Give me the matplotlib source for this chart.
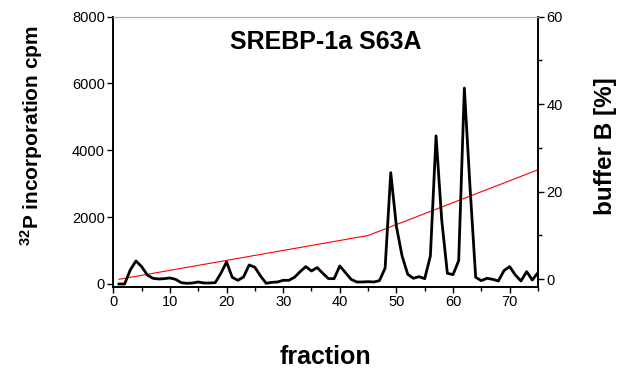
import matplotlib
matplotlib.use("Agg")
import matplotlib.pyplot as plt
from matplotlib.ticker import MultipleLocator

plt.rcParams['font.family'] = ['Liberation Sans', 'DejaVu Sans']
plt.rcParams['mathtext.fontset'] = 'custom'
plt.rcParams['mathtext.bf'] = 'Liberation Sans:bold'
plt.rcParams['mathtext.rm'] = 'Liberation Sans:bold'

# 32P incorporation per fraction
fraction = list(range(1, 76))
cpm = [0, 0, 420, 690, 520, 270, 170, 150, 160, 180,
       140, 40, 20, 30, 60, 30, 30, 40, 320, 660,
       200, 110, 210, 570, 500, 240, 20, 50, 60, 110,
       110, 200, 370, 520, 390, 490, 320, 160, 160, 540,
       340, 140, 60, 60, 70, 60, 100, 470, 3330, 1720,
       840, 290, 170, 220, 160, 840, 4430, 1920, 320, 280,
       700, 5860, 2900, 200, 100, 170, 140, 90, 400, 520,
       270, 90, 370, 120, 340]

# buffer B gradient
grad_x = [1, 45, 75]
grad_b = [0, 10, 25]

fig = plt.figure(figsize=(6.27, 3.71), dpi=100)
ax = fig.add_axes([0.1807, 0.2264, 0.858 - 0.1807, 0.9555 - 0.2264])
ax2 = ax.twinx()

ax.plot(fraction, cpm, color='black', lw=2.0, zorder=3)
ax2.plot(grad_x, grad_b, color='red', lw=0.8)
ax.set_zorder(ax2.get_zorder() + 1)
ax.patch.set_visible(False)

ax.set_xlim(0, 75)
ax.set_ylim(-90, 8000)
ax2.set_ylim(-1.76, 60)

ax.xaxis.set_major_locator(MultipleLocator(10))
ax.xaxis.set_minor_locator(MultipleLocator(5))
ax.yaxis.set_major_locator(MultipleLocator(2000))
ax2.yaxis.set_major_locator(MultipleLocator(20))
ax2.yaxis.set_minor_locator(MultipleLocator(10))

for a in (ax, ax2):
    a.tick_params(which='major', direction='out', length=4, width=1, labelsize=10.5, pad=2)
    a.tick_params(which='minor', direction='out', length=3, width=1)
    a.spines['top'].set_color('#b0b0b0')
    a.spines['top'].set_linewidth(0.8)
    for s in ('left', 'right', 'bottom'):
        a.spines[s].set_linewidth(1.2)

ax.set_xlabel('fraction', fontsize=18, fontweight='bold', labelpad=26)
ax.set_ylabel(r'$^{32}$P incorporation cpm', fontsize=15, fontweight='bold')
ax.yaxis.set_label_coords(-0.161, 0.559)
ax2.set_ylabel('buffer B [%]', fontsize=17.5, fontweight='bold')
ax2.yaxis.set_label_coords(1.131, 0.522)
ax.text(0.5, 0.905, 'SREBP-1a S63A', transform=ax.transAxes, ha='center', va='center',
        fontsize=18, fontweight='bold')

fig.savefig('out.png', dpi=100)
